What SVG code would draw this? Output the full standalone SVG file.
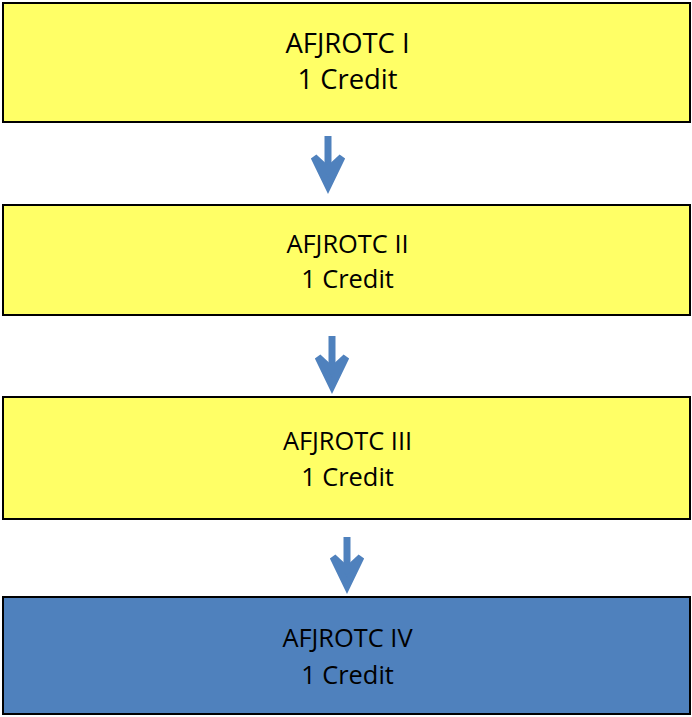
<svg xmlns="http://www.w3.org/2000/svg" width="692" height="717" viewBox="0 0 692 717">
<style>
.box{stroke:#000;stroke-width:2}
.y{fill:#FFFF66}
.b{fill:#4F81BD}
text{font-family:"Open Sans","Liberation Sans",sans-serif;fill:#000;text-anchor:middle}
.t1{font-size:27.4px}
.t2{font-size:25.4px}
.arr{stroke:#4F81BD;stroke-width:7;fill:#4F81BD;stroke-linecap:round;stroke-linejoin:miter}
.shaft{stroke:#4F81BD;stroke-width:7;fill:none}
</style>
<g id="node1">
<rect class="box y" x="3" y="3" width="687" height="119"/>
<text class="t1" x="347.5" y="53">AFJROTC I</text>
<text class="t1" x="347.5" y="89">1 Credit</text>
</g>
<g id="node2">
<rect class="box y" x="3" y="205" width="687" height="110"/>
<text class="t2" x="347.5" y="253">AFJROTC II</text>
<text class="t2" x="347.5" y="288">1 Credit</text>
</g>
<g id="node3">
<rect class="box y" x="3" y="397" width="687" height="122"/>
<text class="t2" x="347.5" y="450">AFJROTC III</text>
<text class="t2" x="347.5" y="486">1 Credit</text>
</g>
<g id="node4">
<rect class="box b" x="3" y="597" width="687" height="117"/>
<text class="t2" x="347.5" y="647">AFJROTC IV</text>
<text class="t2" x="347.5" y="684">1 Credit</text>
</g>
<g id="connectors">
<line class="shaft" x1="328" y1="136" x2="328" y2="180"/>
<path class="arr" d="M314,157 L328,186 L342,157 L328,170 Z"/>
<line class="shaft" x1="332" y1="336" x2="332" y2="380"/>
<path class="arr" d="M318,357 L332,386 L346,357 L332,370 Z"/>
<line class="shaft" x1="347" y1="537" x2="347" y2="580"/>
<path class="arr" d="M333,557 L347,586 L361,557 L347,570 Z"/>
</g>
</svg>
